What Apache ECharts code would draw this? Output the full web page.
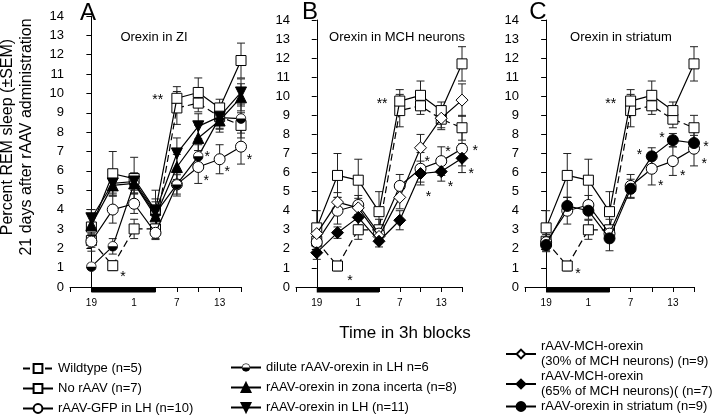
<!DOCTYPE html>
<html>
<head>
<meta charset="utf-8">
<script src="https://cdn.jsdelivr.net/npm/echarts@6/dist/echarts.min.js"></script>
<style>
  html, body { margin: 0; padding: 0; background: #fff; }
  #chart { width: 720px; height: 416px; }
</style>
</head>
<body>
<div id="chart"></div>
<script>
// time blocks (3h), x tick labels
const blocks = ['19', '22', '1', '4', '7', '10', '13', '16'];
const xTickLabels = ['19', '', '1', '', '7', '', '13', ''];

// values (% REM sleep) and SEM
const wildtype = [2.4, 1.1, 3.0, 3.0, 9.25, 9.5, 8.8, 8.35];
const wildtypeSem = [0.35, 0.25, 0.5, 0.55, 0.85, 0.45, 0.45, 0.65];
const noRaav = [3.1, 5.85, 5.6, 3.95, 9.75, 10.05, 9.25, 11.7];
const noRaavSem = [0.9, 1.15, 1.1, 1.05, 0.6, 0.75, 0.45, 0.9];
const gfp = [2.35, 4.0, 4.3, 2.8, 5.3, 6.2, 6.6, 7.25];
const gfpSem = [0.5, 0.7, 0.5, 0.3, 0.6, 0.85, 0.75, 0.9];
const dilute = [1.05, 2.1, 5.35, 3.8, 5.3, 6.75, 8.75, 8.7];
const diluteSem = [0.15, 0.4, 0.5, 0.6, 0.5, 0.6, 0.55, 0.75];
const zonaIncerta = [3.2, 5.25, 5.35, 3.65, 6.2, 7.7, 8.6, 9.8];
const zonaIncertaSem = [0.5, 0.5, 0.5, 0.6, 0.65, 0.65, 0.6, 0.7];
const orexinLH = [3.55, 5.35, 5.45, 3.9, 6.9, 8.3, 8.8, 10.05];
const orexinLHSem = [0.45, 0.5, 0.45, 0.65, 0.8, 0.65, 0.65, 0.7];
const mch30 = [2.8, 4.45, 4.15, 2.65, 4.7, 7.3, 8.85, 9.8];
const mch30Sem = [0.5, 0.5, 0.5, 0.3, 0.6, 0.7, 0.6, 0.85];
const mch65 = [1.8, 2.85, 3.65, 2.4, 3.5, 5.95, 6.05, 6.75];
const mch65Sem = [0.35, 0.3, 0.4, 0.3, 0.5, 0.45, 0.5, 0.75];
const striatum = [2.2, 4.25, 4.0, 2.55, 5.15, 6.85, 7.7, 7.55];
const striatumSem = [0.3, 0.45, 0.45, 0.65, 0.5, 0.45, 0.35, 0.4];

// significance marks: [block position, value, mark]
const starsA = [[3.1, 9.85, '**'], [1.48, 0.7, '*'], [5.42, 6.9, '*'], [5.37, 5.7, '*'], [6.35, 6.15, '*'], [7.4, 6.75, '*']];
const starsB = [[3.15, 9.8, '**'], [1.6, 0.5, '*'], [5.33, 6.75, '*'], [5.39, 4.9, '*'], [6.32, 7.3, '*'], [6.44, 5.45, '*'], [7.64, 7.35, '*'], [7.45, 6.15, '*']];
const starsC = [[3.06, 9.8, '**'], [1.51, 0.9, '*'], [4.42, 7.1, '*'], [5.48, 8.0, '*'], [5.42, 5.5, '*'], [6.47, 6.0, '*'], [7.57, 7.55, '*'], [7.48, 6.65, '*']];

// dark period bar: from block 19 to block 4
const darkPeriod = [[0, 3]];

const FONT = '"Liberation Sans", Arial, sans-serif';

// half filled circle (bottom black)
const halfSvg = "<svg xmlns='http://www.w3.org/2000/svg' width='24' height='24' viewBox='0 0 24 24'>" +
  "<circle cx='12' cy='12' r='10.5' fill='white' stroke='black' stroke-width='1.8'/>" +
  "<path d='M1.5 12 A10.5 10.5 0 0 0 22.5 12 Z' fill='black'/></svg>";
const halfCircle = 'image://data:image/svg+xml;charset=utf-8,' + encodeURIComponent(halfSvg);

const groups = {
  wildtype: { name: 'Wildtype (n=5)', vals: wildtype, sem: wildtypeSem, symbol: 'rect', size: 10, fill: '#fff', dashed: true },
  noRaav: { name: 'No rAAV (n=7)', vals: noRaav, sem: noRaavSem, symbol: 'rect', size: 10, fill: '#fff' },
  gfp: { name: 'rAAV-GFP in LH (n=10)', vals: gfp, sem: gfpSem, symbol: 'circle', size: 11, fill: '#fff' },
  dilute: { name: 'dilute rAAV-orexin in LH n=6', vals: dilute, sem: diluteSem, symbol: halfCircle, size: 11, fill: '#000' },
  zona: { name: 'rAAV-orexin in zona incerta (n=8)', vals: zonaIncerta, sem: zonaIncertaSem, symbol: 'triangle', size: 11, fill: '#000' },
  lh: { name: 'rAAV-orexin in LH (n=11)', vals: orexinLH, sem: orexinLHSem, symbol: 'triangle', size: 11, fill: '#000', rotate: 180 },
  mch30: { name: 'rAAV-MCH-orexin\n(30% of MCH neurons) (n=9)', vals: mch30, sem: mch30Sem, symbol: 'diamond', size: 12, fill: '#fff' },
  mch65: { name: 'rAAV-MCH-orexin\n(65% of MCH neurons)( (n=7)', vals: mch65, sem: mch65Sem, symbol: 'diamond', size: 12, fill: '#000' },
  striatum: { name: 'rAAV-orexin in striatum (n=9)', vals: striatum, sem: striatumSem, symbol: 'circle', size: 11, fill: '#000' }
};

const panels = [
  { grid: { left: 70, top: 16, width: 171, height: 271 }, title: 'Orexin in ZI', titleX: 154, letter: 'A', letterX: 88, letterY: 13,
    keys: ['wildtype', 'noRaav', 'gfp', 'dilute', 'zona', 'lh'], stars: starsA },
  { grid: { left: 296, top: 20, width: 166, height: 267 }, title: 'Orexin in MCH neurons', titleX: 397, letter: 'B', letterX: 310, letterY: 12,
    keys: ['wildtype', 'noRaav', 'gfp', 'mch30', 'mch65'], stars: starsB },
  { grid: { left: 525, top: 20, width: 169, height: 267 }, title: 'Orexin in striatum', titleX: 621, letter: 'C', letterX: 538, letterY: 12,
    keys: ['wildtype', 'noRaav', 'gfp', 'striatum'], stars: starsC }
];

function errorBar(params, api) {
  const x = api.value(0), y = api.value(1), e = api.value(2);
  const hi = api.coord([x, y + e]);
  const lo = api.coord([x, y - e]);
  const w = 4;
  const st = { stroke: '#222', lineWidth: 1 };
  return {
    type: 'group',
    children: [
      { type: 'line', shape: { x1: hi[0], y1: hi[1], x2: lo[0], y2: lo[1] }, style: st },
      { type: 'line', shape: { x1: hi[0] - w, y1: hi[1], x2: hi[0] + w, y2: hi[1] }, style: st },
      { type: 'line', shape: { x1: lo[0] - w, y1: lo[1], x2: lo[0] + w, y2: lo[1] }, style: st }
    ]
  };
}

function darkBar(params, api) {
  const a = api.coord([api.value(0), 0]);
  const b = api.coord([api.value(1), 0]);
  return { type: 'rect', shape: { x: a[0], y: a[1] + 0.5, width: b[0] - a[0], height: 5 }, style: { fill: '#000' } };
}

// significance mark drawn as text at its data position
function starMark(params, api) {
  const pt = api.coord([api.value(0), api.value(1)]);
  return {
    type: 'text', x: pt[0], y: pt[1] + 4,
    style: { text: String(api.value(2)), fontSize: 14, fontFamily: FONT, fill: '#000', align: 'center', verticalAlign: 'middle' }
  };
}

const grid = [], xAxis = [], yAxis = [], series = [], graphic = [];

panels.forEach((p, pi) => {
  grid.push(p.grid);
  xAxis.push({
    gridIndex: pi, type: 'value', min: -1, max: 7, interval: 1,
    axisLine: { lineStyle: { color: '#000', width: 1 } },
    axisTick: { show: true, length: 5, lineStyle: { color: '#000' } },
    axisLabel: { color: '#000', fontSize: 10, fontFamily: FONT, margin: 11,
      formatter: v => xTickLabels[v] || '' },
    splitLine: { show: false }
  });
  yAxis.push({
    gridIndex: pi, type: 'value', min: 0, max: 14, interval: 1,
    axisLine: { show: true, lineStyle: { color: '#000', width: 1 } },
    axisTick: { show: true, length: 5, lineStyle: { color: '#000' } },
    axisLabel: { color: '#000', fontSize: 13, fontFamily: FONT, margin: 6 },
    splitLine: { show: false }
  });

  series.push({
    type: 'custom', xAxisIndex: pi, yAxisIndex: pi, renderItem: darkBar,
    data: darkPeriod, clip: false, silent: true, z: 1
  });

  p.keys.forEach(k => {
    const g = groups[k];
    series.push({
      type: 'custom', xAxisIndex: pi, yAxisIndex: pi, renderItem: errorBar,
      data: g.vals.map((v, i) => [i, v, g.sem[i]]), silent: true, z: 2
    });
  });

  p.keys.forEach((k, si) => {
    const g = groups[k];
    series.push({
      name: g.name, type: 'line', xAxisIndex: pi, yAxisIndex: pi,
      data: g.vals.map((v, i) => [i, v]),
      symbol: g.symbol, symbolSize: g.size, symbolRotate: g.rotate || 0,
      showAllSymbol: true,
      lineStyle: { color: '#000', width: 1.2, type: g.dashed ? [7, 4] : 'solid' },
      itemStyle: { color: g.fill, borderColor: '#000', borderWidth: 1 },
      emphasis: { disabled: true },
      z: 3 + si
    });
  });

  series.push({
    type: 'custom', xAxisIndex: pi, yAxisIndex: pi, renderItem: starMark,
    dimensions: ['x', 'y', { name: 'mark', type: 'ordinal' }],
    data: p.stars, clip: false, silent: true, z: 20
  });

  graphic.push({ type: 'text', x: p.letterX, y: p.letterY,
    style: { text: p.letter, fontSize: 24, fontFamily: FONT, fill: '#000', align: 'center', verticalAlign: 'middle' } });
  graphic.push({ type: 'text', x: p.titleX, y: 37,
    style: { text: p.title, fontSize: 13, fontFamily: FONT, fill: '#000', align: 'center', verticalAlign: 'middle' } });
});

graphic.push({ type: 'text', x: 17, y: 137, rotation: Math.PI / 2,
  style: { text: 'Percent REM sleep (\u00B1SEM)\n21 days after rAAV administration', fontSize: 16, lineHeight: 19,
    fontFamily: FONT, fill: '#000', align: 'center', verticalAlign: 'middle' } });
graphic.push({ type: 'text', x: 405, y: 333,
  style: { text: 'Time in 3h blocks', fontSize: 17, fontFamily: FONT, fill: '#000', align: 'center', verticalAlign: 'middle' } });

const legendBase = {
  orient: 'vertical', itemWidth: 30, itemHeight: 11, selectedMode: false,
  padding: 0, height: 120, width: 240,
  textStyle: { color: '#000', fontSize: 13, fontFamily: FONT }
};

const option = {
  animation: false,
  backgroundColor: '#fff',
  grid, xAxis, yAxis, series, graphic,
  legend: [
    Object.assign({}, legendBase, { left: 22, top: 362, itemGap: 7,
      data: [groups.wildtype.name, groups.noRaav.name, groups.gfp.name] }),
    Object.assign({}, legendBase, { left: 230, top: 361, itemGap: 7,
      data: [groups.dilute.name, groups.zona.name, groups.lh.name] }),
    Object.assign({}, legendBase, { left: 505, top: 339, itemGap: 0,
      textStyle: { color: '#000', fontSize: 13, fontFamily: FONT, lineHeight: 15 },
      data: [groups.mch30.name, groups.mch65.name, groups.striatum.name] })
  ]
};

const myChart = echarts.init(document.getElementById('chart'));
myChart.setOption(option);
window.addEventListener('resize', function () {
  myChart.resize();
});
</script>
</body>
</html>
